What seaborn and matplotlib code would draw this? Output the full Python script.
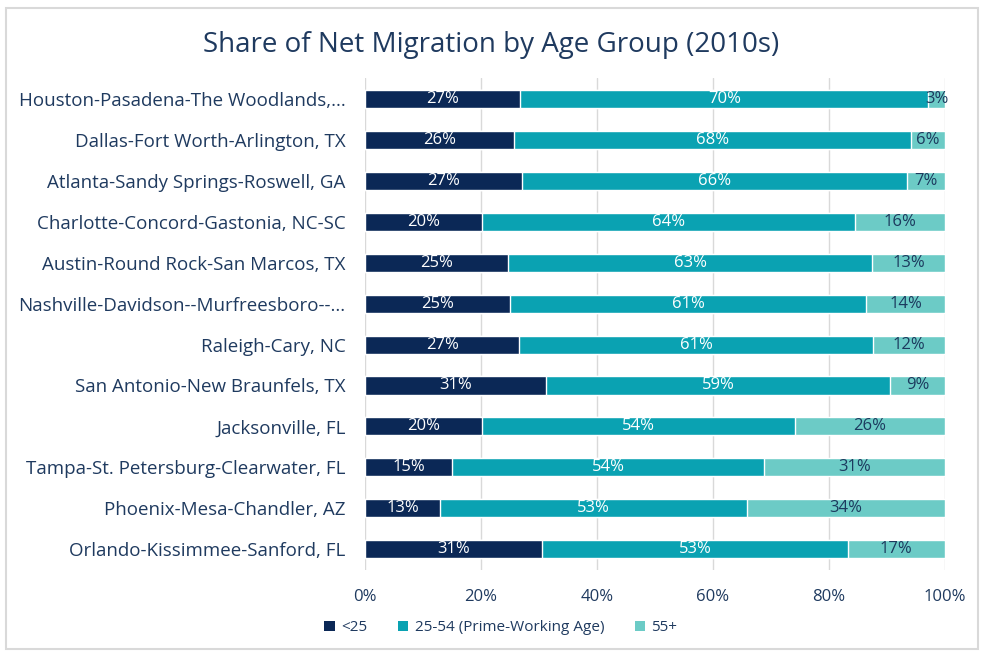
import matplotlib
matplotlib.use("Agg")
import matplotlib.pyplot as plt
import seaborn as sns
import numpy as np
from matplotlib.patches import Rectangle, Patch

# data (share of net migration, %)
cities = [
    "Houston-Pasadena-The Woodlands,...",
    "Dallas-Fort Worth-Arlington, TX",
    "Atlanta-Sandy Springs-Roswell, GA",
    "Charlotte-Concord-Gastonia, NC-SC",
    "Austin-Round Rock-San Marcos, TX",
    "Nashville-Davidson--Murfreesboro--...",
    "Raleigh-Cary, NC",
    "San Antonio-New Braunfels, TX",
    "Jacksonville, FL",
    "Tampa-St. Petersburg-Clearwater, FL",
    "Phoenix-Mesa-Chandler, AZ",
    "Orlando-Kissimmee-Sanford, FL",
]
under_25 = [26.8, 25.7, 27.1, 20.2, 24.7, 25.0, 26.6, 31.2, 20.2, 15.0, 12.9, 30.6]
prime_25_54 = [70.3, 68.4, 66.3, 64.2, 62.7, 61.4, 61.0, 59.4, 53.9, 53.8, 53.0, 52.6]
over_55 = [2.9, 5.9, 6.6, 15.6, 12.6, 13.6, 12.4, 9.4, 25.9, 31.2, 34.1, 16.8]
series_names = ["<25", "25-54 (Prime-Working Age)", "55+"]

colors = ["#0b2856", "#0aa2b2", "#6ccbc6"]
label_colors = ["white", "white", "#1c3a5e"]
text_color = "#1f3a5f"

sns.set_style("white")
plt.rcParams["font.family"] = ["Open Sans", "DejaVu Sans"]

fig = plt.figure(figsize=(9.82, 6.52), dpi=100)
ax = fig.add_axes([0.3717, 0.126, 0.5906, 0.754])

layers = [under_25, prime_25_54, over_55]
cum = np.cumsum(np.array(layers), axis=0)

# draw stacked bars from the back (full total) to the front
for i in range(2, -1, -1):
    sns.barplot(x=cum[i], y=cities, color=colors[i], orient="h", width=0.44,
                saturation=1, ax=ax, zorder=3)

# segment labels
for i, vals in enumerate(layers):
    starts = cum[i] - np.array(vals)
    for j, v in enumerate(vals):
        ax.text(starts[j] + v / 2, j, f"{v:.0f}%", ha="center", va="center",
                color=label_colors[i], fontsize=12, zorder=4)

ax.set_xlim(0, 100)
ax.set_ylim(11.5, -0.5)
ax.set_xticks(range(0, 101, 20))
ax.set_xticklabels([f"{t}%" for t in range(0, 101, 20)])
ax.xaxis.grid(True, color="#d9d9d9", linewidth=1, zorder=0)
ax.set_axisbelow(True)
for s in ax.spines.values():
    s.set_visible(False)
ax.tick_params(axis="y", length=0, pad=14, labelsize=13.5, labelcolor=text_color)
ax.tick_params(axis="x", length=0, pad=14, labelsize=12, labelcolor=text_color)
ax.set_xlabel("")
ax.set_ylabel("")

fig.text(0.5, 0.931, "Share of Net Migration by Age Group (2010s)", ha="center",
         va="center", fontsize=20, color=text_color)

handles = [Patch(facecolor=c, edgecolor="none") for c in colors]
fig.legend(handles, series_names, loc="center", bbox_to_anchor=(0.51, 0.037),
           ncol=3, frameon=False, fontsize=11, handlelength=0.7,
           handleheight=0.7, handletextpad=0.4, columnspacing=2.0,
           labelcolor=text_color)

# light chart border
fig.patches.append(Rectangle((0.006, 0.005), 0.99, 0.983, transform=fig.transFigure,
                             fill=False, edgecolor="#d9d9d9", linewidth=1.5))

fig.savefig("out.png", dpi=100)
